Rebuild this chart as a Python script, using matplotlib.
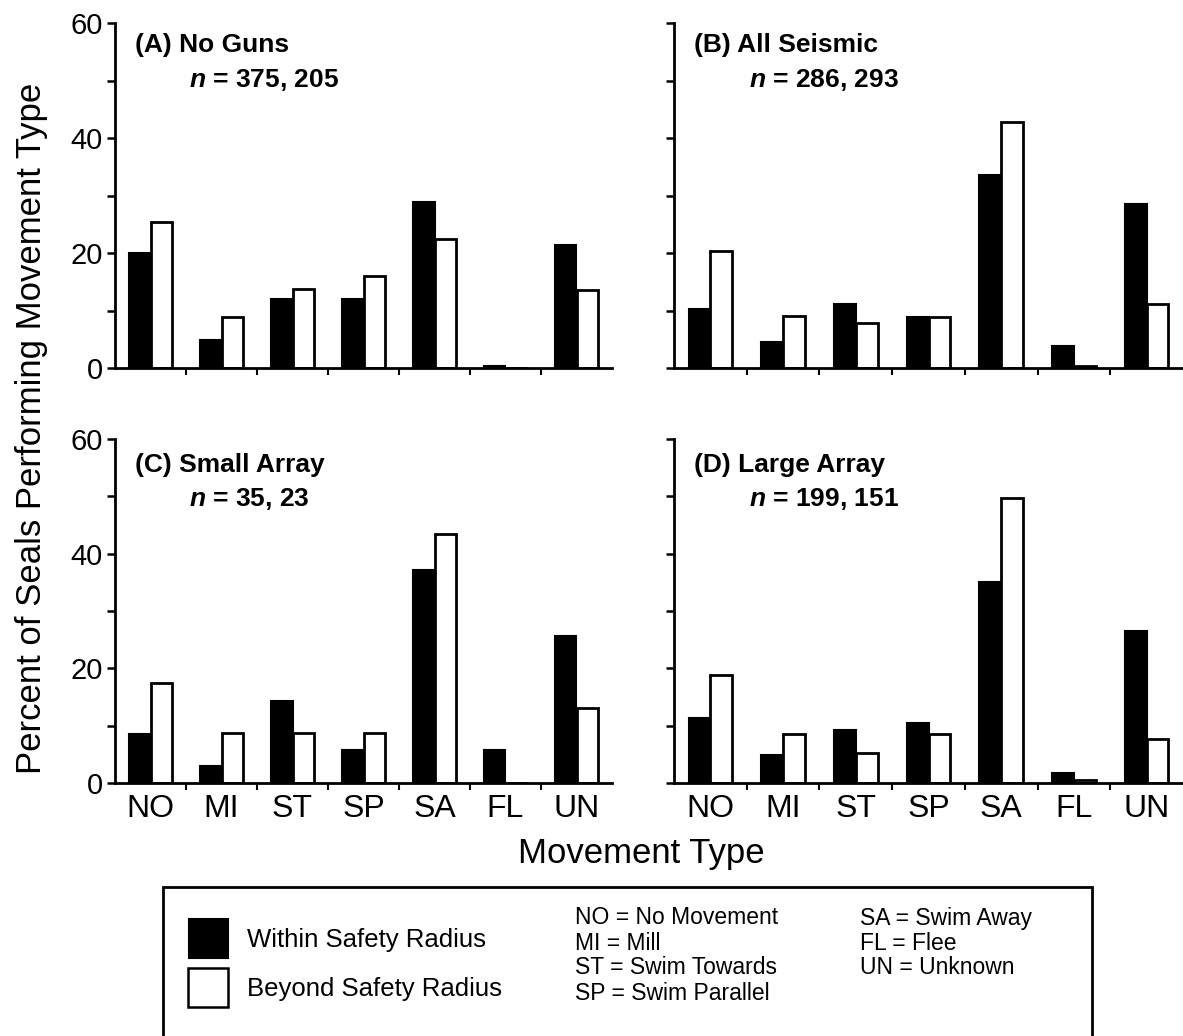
import matplotlib
matplotlib.use("Agg")
import matplotlib.pyplot as plt
import matplotlib.patches as mpatches
import numpy as np

# movement categories
codes = ['NO', 'MI', 'ST', 'SP', 'SA', 'FL', 'UN']

# percent of seals, within / beyond safety radius
noguns_in = [20.0, 4.9, 12.0, 12.0, 28.9, 0.3, 21.4]
noguns_out = [25.4, 8.9, 13.7, 16.0, 22.4, 0.0, 13.5]
seismic_in = [10.2, 4.5, 11.2, 8.8, 33.6, 3.8, 28.5]
seismic_out = [20.4, 9.1, 7.9, 8.8, 42.8, 0.3, 11.1]
small_in = [8.6, 2.9, 14.3, 5.7, 37.1, 5.7, 25.7]
small_out = [17.4, 8.7, 8.7, 8.7, 43.5, 0.0, 13.0]
large_in = [11.3, 4.8, 9.2, 10.4, 35.0, 1.8, 26.5]
large_out = [18.8, 8.6, 5.2, 8.6, 49.7, 0.5, 7.7]

titles = ['(A) No Guns', '(B) All Seismic', '(C) Small Array', '(D) Large Array']
ns = ['375, 205', '286, 293', '35, 23', '199, 151']

plt.rcParams['font.family'] = ['Liberation Sans', 'DejaVu Sans']
plt.rcParams['mathtext.fontset'] = 'custom'
plt.rcParams['mathtext.it'] = 'Liberation Sans:italic:bold'

W, H = 1183, 1036
fig = plt.figure(figsize=(W / 100, H / 100), dpi=100)

def box(l, r, top, bot):
    return [l / W, 1 - bot / H, (r - l) / W, (bot - top) / H]

axes = [fig.add_axes(box(115, 612, 23, 368)),
        fig.add_axes(box(674, 1183, 23, 368)),
        fig.add_axes(box(115, 612, 439, 783)),
        fig.add_axes(box(674, 1183, 439, 783))]

data = [(noguns_in, noguns_out), (seismic_in, seismic_out),
        (small_in, small_out), (large_in, large_out)]

x = np.arange(len(codes))
bw = 0.3
for i, ax in enumerate(axes):
    d_in, d_out = data[i]
    ax.bar(x - bw / 2, d_in, bw, color='black', edgecolor='black', lw=1.5)
    ax.bar(x + bw / 2, d_out, bw, color='white', edgecolor='black', lw=2)
    ax.set_xlim(-0.5, 6.5)
    ax.set_ylim(0, 60)
    ax.spines['top'].set_visible(False)
    ax.spines['right'].set_visible(False)
    ax.spines['left'].set_linewidth(2)
    ax.spines['bottom'].set_linewidth(2)
    ax.set_yticks([0, 20, 40, 60])
    ax.set_yticks([10, 30, 50], minor=True)
    ax.tick_params(axis='y', which='both', direction='out', length=6, width=1.8,
                   labelsize=21, pad=3)
    ax.set_xticks(x)
    ax.set_xticks(x[:-1] + 0.5, minor=True)
    ax.tick_params(axis='x', which='major', length=0, labelsize=23, pad=8)
    ax.tick_params(axis='x', which='minor', direction='out', length=5, width=1.5)
    if i < 2:
        ax.set_xticklabels([])
    else:
        ax.set_xticklabels(codes)
    if i % 2 == 1:
        ax.set_yticklabels([])
    ty = 0.935 if i < 2 else 0.925
    ax.text(0.04, ty, titles[i], transform=ax.transAxes, fontsize=19,
            fontweight='bold', ha='left', va='center')
    ax.text(0.148, ty - 0.1, r'$\it{n}$ = ' + ns[i], transform=ax.transAxes,
            fontsize=19, fontweight='bold', ha='left', va='center')

fig.text(32 / W, 1 - 428 / H, 'Percent of Seals Performing Movement Type',
         rotation=90, ha='center', va='center', fontsize=25)
fig.text(641 / W, 1 - 853 / H, 'Movement Type', ha='center', va='center',
         fontsize=25)

# legend panel
fig.patches.append(mpatches.Rectangle((163 / W, -0.02), (1092 - 163) / W,
                                      0.02 + 1 - 887 / H, transform=fig.transFigure,
                                      facecolor='none', edgecolor='black', lw=2))
fig.patches.append(mpatches.Rectangle((189 / W, 1 - 958 / H), 39 / W, 39 / H,
                                      transform=fig.transFigure, facecolor='black',
                                      edgecolor='black', lw=1.5))
fig.patches.append(mpatches.Rectangle((188 / W, 1 - 1007 / H), 40 / W, 39 / H,
                                      transform=fig.transFigure, facecolor='white',
                                      edgecolor='black', lw=1.8))
fig.text(247 / W, 1 - 940 / H, 'Within Safety Radius', fontsize=18.5, va='center')
fig.text(247 / W, 1 - 989 / H, 'Beyond Safety Radius', fontsize=18.5, va='center')

defs1 = ['NO = No Movement', 'MI = Mill', 'ST = Swim Towards', 'SP = Swim Parallel']
defs2 = ['SA = Swim Away', 'FL = Flee', 'UN = Unknown']
for k, s in enumerate(defs1):
    fig.text(575 / W, 1 - (918 + 25 * k) / H, s, fontsize=16.5, va='center')
for k, s in enumerate(defs2):
    fig.text(860 / W, 1 - (918 + 25 * k) / H, s, fontsize=16.5, va='center')

fig.savefig('out.png', dpi=100)
